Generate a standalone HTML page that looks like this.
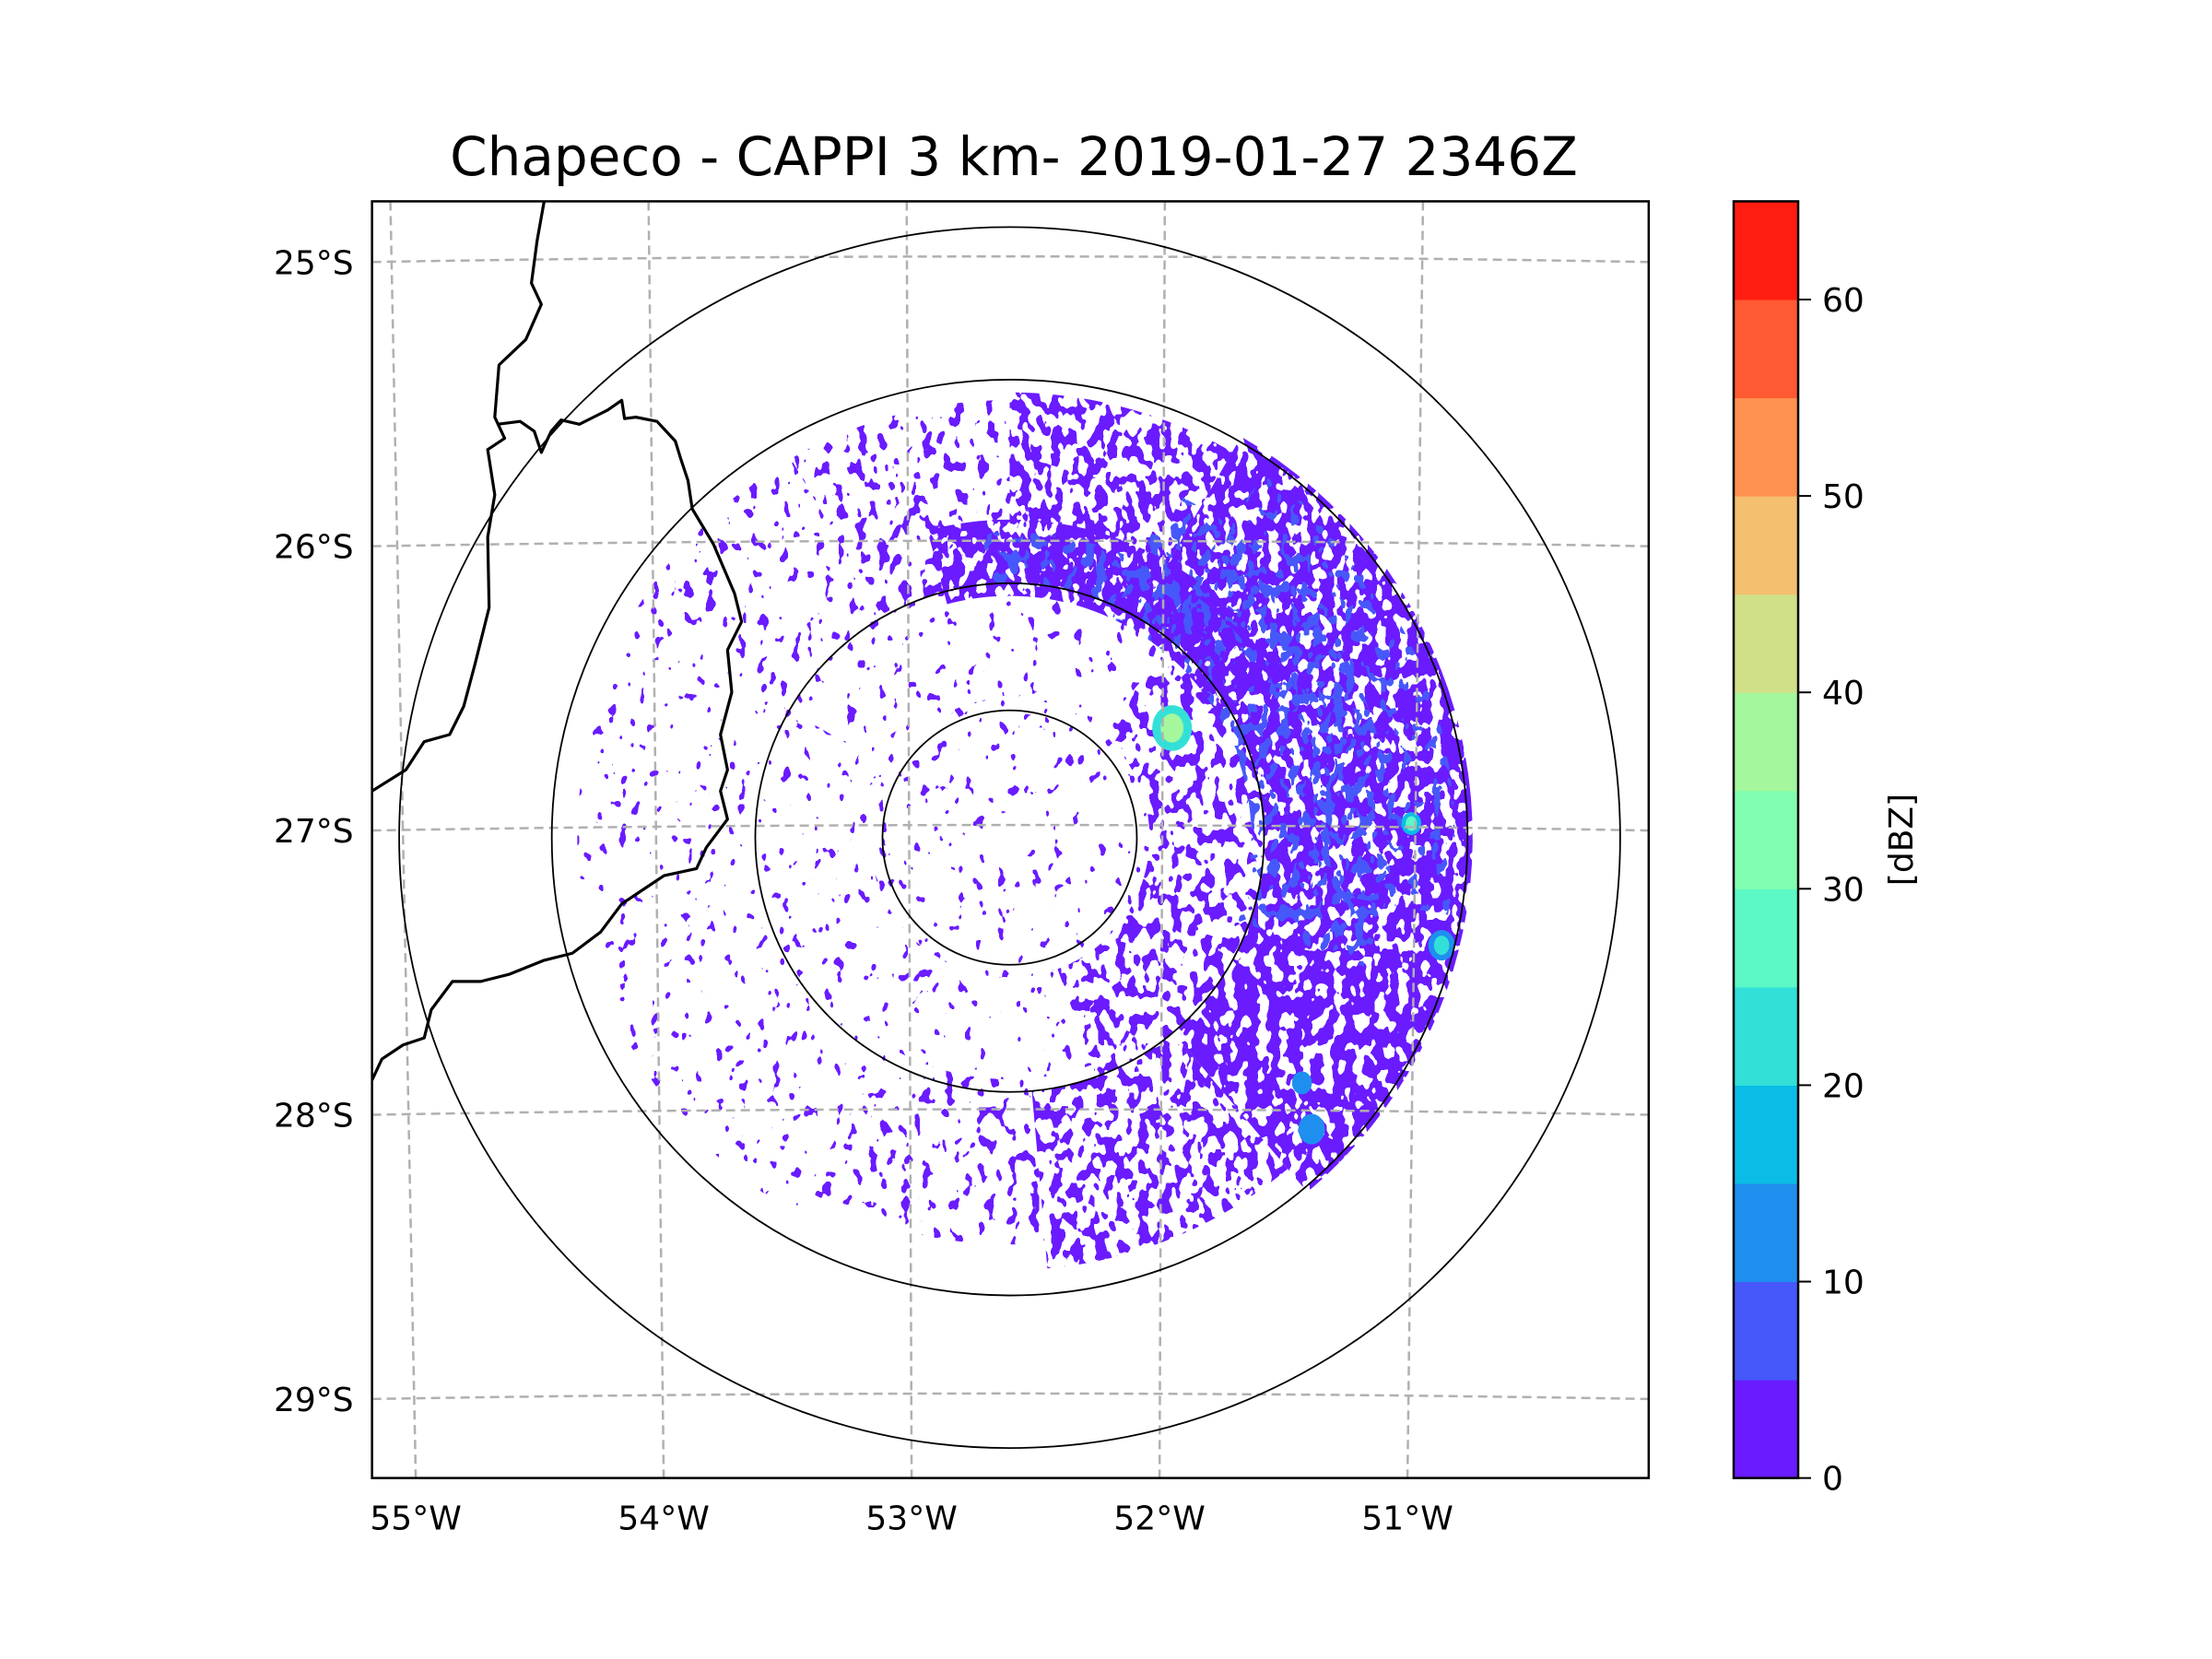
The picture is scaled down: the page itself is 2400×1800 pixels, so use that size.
<!DOCTYPE html>
<html><head><meta charset="utf-8"><style>
html,body{margin:0;padding:0;background:#fff}
svg{display:block}
text{font-family:"DejaVu Sans","Liberation Sans",sans-serif;fill:#000}
filter{color-interpolation-filters:sRGB}
</style></head><body>
<svg id="fig" width="2400" height="1800" viewBox="0 0 2400 1800" xmlns="http://www.w3.org/2000/svg">
<defs id="defs"></defs>
<text x="1100" y="190" font-size="58" text-anchor="middle">Chapeco - CAPPI 3 km- 2019-01-27 2346Z</text>
<g id="plot"></g>
<g id="cbar"></g>
</svg>
<script>
// ---- data ----
const latTicks = [25, 26, 27, 28, 29];
const lonTicks = [55, 54, 53, 52, 51];
const ringKm = [50, 100, 180, 240];
const cbarLevels = [0,5,10,15,20,25,30,35,40,45,50,55,60,65];
const cbarColors = ['#6a1bff','#4758fa','#1f8fef','#0bbce6','#33e0d8','#5cf9c6','#82feb0','#a4f79c','#d0e088','#f4bf6e','#ff9150','#ff5a32','#ff1d11'];
const cbarTicks = [0,10,20,30,40,50,60];
// echo sectors: azimuth (deg from N, clockwise), range km, coverage density, dBZ
const secAz0 =   [300, 330,   0,  30, 140,  40, 175, 210,   0, -60,  25,  35, 160, -15, -5];
const secAz1 =   [330, 360,  30, 140, 175, 160, 210, 300, 360,  40, 110, 100, 210,  60, 50];
const secR0 =    [100, 100, 100, 100, 100,  55,  95,  55,  10,  55,  95, 120,  55,  95, 100];
const secR1 =    [172, 172, 175, 182, 170, 100, 160, 170,  55, 100, 150, 175,  95, 125, 120];
const secDens =  [0.18,0.32,0.55,0.72,0.5,0.45,0.22,0.08,0.05,0.06,0.35,0.25,0.06,0.7,0.4];
const secDbz =   [2,    2,   2,   2,   2,   2,   2,   2,   2,   2,   7,   7,   2,   2,  7];
// strong cells: azimuth, range km, size km, dBZ
const cellAz = [56, 88, 104, 134, 130];
const cellR  = [77, 158, 175, 165, 150];
const cellSz = [6, 3, 4, 4, 3];
const cellDbz= [35, 27, 22, 12, 10];

// ---- geometry ----
const S = 1.5306;
const D = v => v*S + 1.1;
const axL = D(263), axR = D(1168), axT = D(142), axB = D(1047);
const cx = D(715), cy = D(593), pxPerKm = 2.76;
const yLat = lat => D(185 + (lat-25)*201.5);
const xLonTop = lon => D(276 + (55-lon)*183);
const xLonBot = lon => D(294 + (55-lon)*175.75);
const colorFor = dbz => cbarColors[Math.min(12, Math.max(0, Math.floor(dbz/5)))];
const NS = 'http://www.w3.org/2000/svg';
const plot = document.getElementById('plot');
const defs = document.getElementById('defs');
function mk(tag, attrs, parent){const e=document.createElementNS(NS,tag);for(const k in attrs)e.setAttribute(k,attrs[k]);(parent||plot).appendChild(e);return e;}
function polar(az, km){const a=az*Math.PI/180;return [cx+Math.sin(a)*km*pxPerKm, cy-Math.cos(a)*km*pxPerKm];}

const cp = mk('clipPath',{id:'axclip'},defs);
mk('rect',{x:axL,y:axT,width:axR-axL,height:axB-axT},cp);

const inner = mk('g',{'clip-path':'url(#axclip)'});



// echoes
secAz0.forEach((a0,i)=>{
  const a1=secAz1[i], r0=secR0[i], r1=secR1[i], d=secDens[i];
  const th = 0.72 - 0.38*d;
  const f = mk('filter',{id:'sp'+i,x:axL,y:axT,width:axR-axL,height:axB-axT,filterUnits:'userSpaceOnUse','color-interpolation-filters':'sRGB'},defs);
  mk('feTurbulence',{type:'fractalNoise',baseFrequency:'0.085 0.06',numOctaves:'2',seed:String(3+i*7),result:'n'},f);
  const col = colorFor(secDbz[i]);
  const r=parseInt(col.substr(1,2),16)/255,g=parseInt(col.substr(3,2),16)/255,b=parseInt(col.substr(5,2),16)/255;
  mk('feColorMatrix',{type:'matrix',values:`0 0 0 0 ${r} 0 0 0 0 ${g} 0 0 0 0 ${b} 200 0 0 0 ${-200*th}`},f);
  const n=40;let p='';
  for(let k=0;k<=n;k++){const [x,y]=polar(a0+(a1-a0)*k/n,r1);p+=(k?'L':'M')+x.toFixed(1)+' '+y.toFixed(1);}
  for(let k=n;k>=0;k--){const [x,y]=polar(a0+(a1-a0)*k/n,r0);p+='L'+x.toFixed(1)+' '+y.toFixed(1);}
  const c=mk('clipPath',{id:'sc'+i},defs);mk('path',{d:p+'Z'},c);
  const rect=mk('rect',{x:axL,y:axT,width:axR-axL,height:axB-axT,filter:`url(#sp${i})`,'clip-path':`url(#sc${i})`},inner);
  
  
});
cellAz.forEach((az,i)=>{
  const [x,y]=polar(az,cellR[i]);
  const base=mk('ellipse',{cx:x,cy:y,rx:cellSz[i]*pxPerKm*1.3,ry:cellSz[i]*pxPerKm*1.5,fill:colorFor(Math.max(10,cellDbz[i]-12))},inner);
  
  
  const e=mk('ellipse',{cx:x,cy:y,rx:cellSz[i]*pxPerKm*0.75,ry:cellSz[i]*pxPerKm*0.95,fill:colorFor(cellDbz[i])},inner);
  
  
});

// gridlines
latTicks.forEach(lat=>{
  const y=yLat(lat);
  const l=mk('path',{d:`M${axL} ${y} Q${(axL+axR)/2} ${y-12} ${axR} ${y}`,fill:'none',stroke:'#b0b0b0','stroke-width':2.5,'stroke-dasharray':'10 6'},inner);
  
  
});
lonTicks.forEach(lon=>{
  const l=mk('line',{x1:xLonTop(lon),y1:axT,x2:xLonBot(lon),y2:axB,stroke:'#b0b0b0','stroke-width':2.5,'stroke-dasharray':'10 6'},inner);
  
  
});
ringKm.forEach(km=>{
  const c=mk('circle',{cx:cx,cy:cy,r:km*pxPerKm,fill:'none',stroke:'#000','stroke-width':1.8},inner);
  
  
});
const b1=[[385,142],[380,170],[376,200],[383,215],[372,240],[353,258],[350,295],[357,310],[345,318],[350,350],[345,380],[346,430],[336,470],[328,500],[318,520],[300,525],[287,545],[263,560]];
const b2=[[352,300],[368,298],[378,305],[383,320],[390,305],[397,297],[410,300],[420,295],[430,290],[440,283],[442,296],[450,295],[465,298],[478,312],[482,325],[487,340],[490,360],[505,385],[520,420],[525,440],[515,460],[518,490],[510,520],[515,545],[510,560],[515,580],[500,600],[493,615],[470,620],[455,630],[440,640],[425,660],[405,675],[385,680],[360,690],[340,695],[320,695],[305,715],[300,735],[285,740],[270,750],[263,765]];
[b1,b2].forEach(b=>{
  const p=mk('polyline',{points:b.map(q=>D(q[0])+','+D(q[1])).join(' '),fill:'none',stroke:'#000','stroke-width':3.2,'stroke-linejoin':'round'},inner);
  
  
});
const fr=mk('rect',{x:axL,y:axT,width:axR-axL,height:axB-axT,fill:'none',stroke:'#000','stroke-width':2.5});


latTicks.forEach(lat=>{
  const t=mk('text',{x:axL-20,y:yLat(lat)+13,'font-size':36,'text-anchor':'end'});t.textContent=lat+'°S';
  
  
});
lonTicks.forEach(lon=>{
  const t=mk('text',{x:xLonBot(lon),y:axB+56,'font-size':36,'text-anchor':'middle'});t.textContent=lon+'°W';
  
  
});

// colorbar
const cb=document.getElementById('cbar');
const cbL=1881, cbW=70, cbT=axT, cbB=axB;
const yCb=v=>cbB-(v-cbarLevels[0])/(cbarLevels[cbarLevels.length-1]-cbarLevels[0])*(cbB-cbT);
cbarColors.forEach((c,i)=>{
  const r=mk('rect',{x:cbL,y:yCb(cbarLevels[i+1]),width:cbW,height:yCb(cbarLevels[i])-yCb(cbarLevels[i+1])+0.5,fill:c},cb);
  
  
});
const cf=mk('rect',{x:cbL,y:cbT,width:cbW,height:cbB-cbT,fill:'none',stroke:'#000','stroke-width':2.5},cb);


cbarTicks.forEach(v=>{
  const y=yCb(v);
  const l=mk('line',{x1:cbL+cbW,y1:y,x2:cbL+cbW+14,y2:y,stroke:'#000','stroke-width':2},cb);
  
  
  const t=mk('text',{x:cbL+cbW+26,y:y+13,'font-size':36},cb);t.textContent=v;
  
  
});
const lx=2075, ly=(cbT+cbB)/2;
const lab=mk('text',{x:lx,y:ly,'font-size':36,'text-anchor':'middle',transform:`rotate(-90 ${lx} ${ly})`},cb);
lab.textContent='[dBZ]';


</script>
</body></html>
